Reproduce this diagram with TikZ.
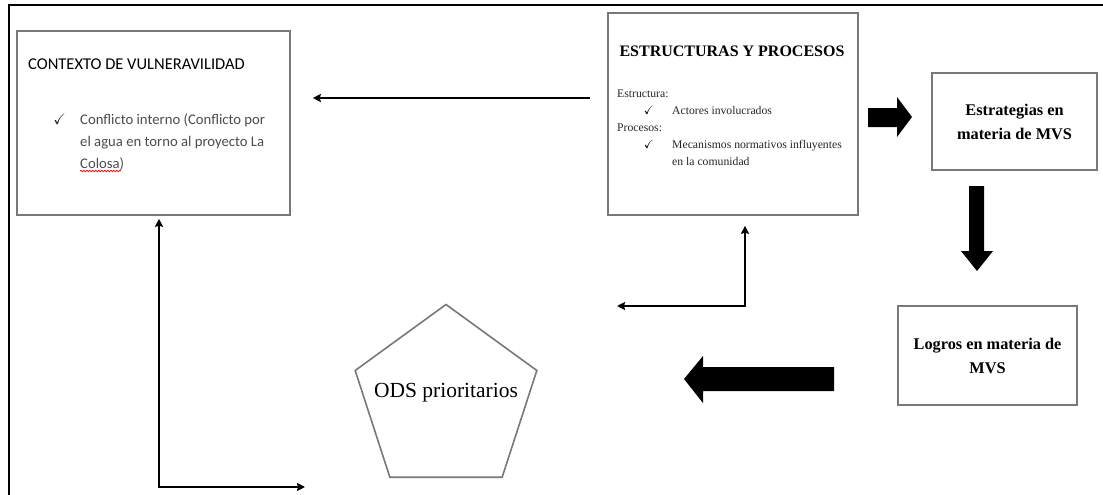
\documentclass[tikz,border=0pt]{standalone}
\usepackage{amssymb}
\usepackage{fontspec}
\setmainfont{Liberation Serif}
\newfontfamily\calibri{Carlito}
\usetikzlibrary{positioning}
\usetikzlibrary{arrows.meta,shapes.geometric,decorations.pathmorphing}
\definecolor{boxgray}{RGB}{120,120,120}

\begin{document}
\begin{tikzpicture}[x=1pt,y=-1pt,
	box/.style={draw=boxgray,line width=1.6pt,inner sep=0pt},
	boxtext/.style={align=center,font=\bfseries\fontsize{16.3}{24}\selectfont},
	small/.style={inner sep=0pt,anchor=base west,text=black!85,font=\fontsize{11.7}{17}\selectfont},
	body/.style={inner sep=0pt,anchor=base west,text=black!70,font=\calibri\fontsize{14.7}{22}\selectfont},
	tick/.style={inner sep=0pt,anchor=base east},
	arr/.style={line width=1.8pt,-{Stealth[length=8pt,width=8pt,inset=1pt]}},
	arrs/.style={line width=1.8pt,{Stealth[length=8pt,width=8pt,inset=1pt]}-{Stealth[length=8pt,width=8pt,inset=1pt]}}]
	\useasboundingbox (0,0) rectangle (1103,495);
	\draw[line width=2.2pt] (9,495) -- (9,5) -- (1103,5);

	% boxes
	\node[box,minimum width=273pt,minimum height=184pt] (ctx) at (153.5,123) {};
	\node[box,minimum width=250pt,minimum height=202pt] (estr) at (733,114) {};
	\node[box,boxtext,minimum width=165pt,minimum height=97pt] (estra) at (1014.5,121.5) {Estrategias en\\materia de MVS};
	\node[box,boxtext,minimum width=179pt,minimum height=99pt] (logros) at (987.5,355.5) {Logros en materia de\\MVS};
	\node[box,regular polygon,regular polygon sides=5,minimum size=191pt] (ods) at (446,400) {};
	\node[font=\fontsize{21.5}{24}\selectfont] (odstxt) at ([yshift=7pt]ods.center) {ODS prioritarios};

	% contexto
	\node[inner sep=0pt,anchor=base west,font=\calibri\fontsize{16.5}{20}\selectfont] (ctxtitle) at (28,70) {CONTEXTO DE VULNERAVILIDAD};
	\node[body] (conf1) at (80,124) {Conflicto interno (Conflicto por};
	\node[body] (conf2) at (80,146) {el agua en torno al proyecto La};
	\node[body] (conf3) at (80,168) {Colosa)};
	\node[tick,left=14pt of conf1.base west,anchor=base east,text=black!85,font=\fontsize{15}{18}\selectfont] {\checkmark};
	\draw[red,line width=0.7pt,decorate,decoration={snake,amplitude=0.8pt,segment length=3pt}] (80,171) -- (121,171);

	% estructuras
	\node[inner sep=0pt,anchor=base,font=\bfseries\fontsize{16}{20}\selectfont] (estrtitle) at (732,57) {ESTRUCTURAS Y PROCESOS};
	\node[small] (est) at (617,97) {Estructura:};
	\node[small] (act) at (672,114) {Actores involucrados};
	\node[small] (proc) at (617,131) {Procesos:};
	\node[small] (mec1) at (672,148) {Mecanismos normativos influyentes};
	\node[small] (mec2) at (672,165) {en la comunidad};
	\node[tick,left=18pt of act.base west,anchor=base east,font=\fontsize{12}{14}\selectfont] {\checkmark};
	\node[tick,left=18pt of mec1.base west,anchor=base east,font=\fontsize{12}{14}\selectfont] {\checkmark};

	% flechas
	\coordinate (a1) at (590,98);
	\draw[arr,shorten >=22pt] (a1) -- (a1 -| ctx.east);
	\coordinate (b1) at (617,306);
	\draw[arrs] (b1) -| ([xshift=12pt,yshift=-10pt]estr.south);
	\coordinate (b2) at (305,487);
	\draw[arrs] (b2) -| ([xshift=5.5pt,yshift=-3pt]ctx.south);

	\fill (868,108) -- (897,108) -- (897,97) -- (912,117) -- (897,137) -- (897,127) -- (868,127) -- cycle;
	\fill (969,186) -- (984,186) -- (984,251) -- (993,251) -- (977,271) -- (961,251) -- (969,251) -- cycle;
	\fill (834,367) -- (703,367) -- (703,356) -- (684,379) -- (703,403) -- (703,391) -- (834,391) -- cycle;
\end{tikzpicture}
\end{document}
